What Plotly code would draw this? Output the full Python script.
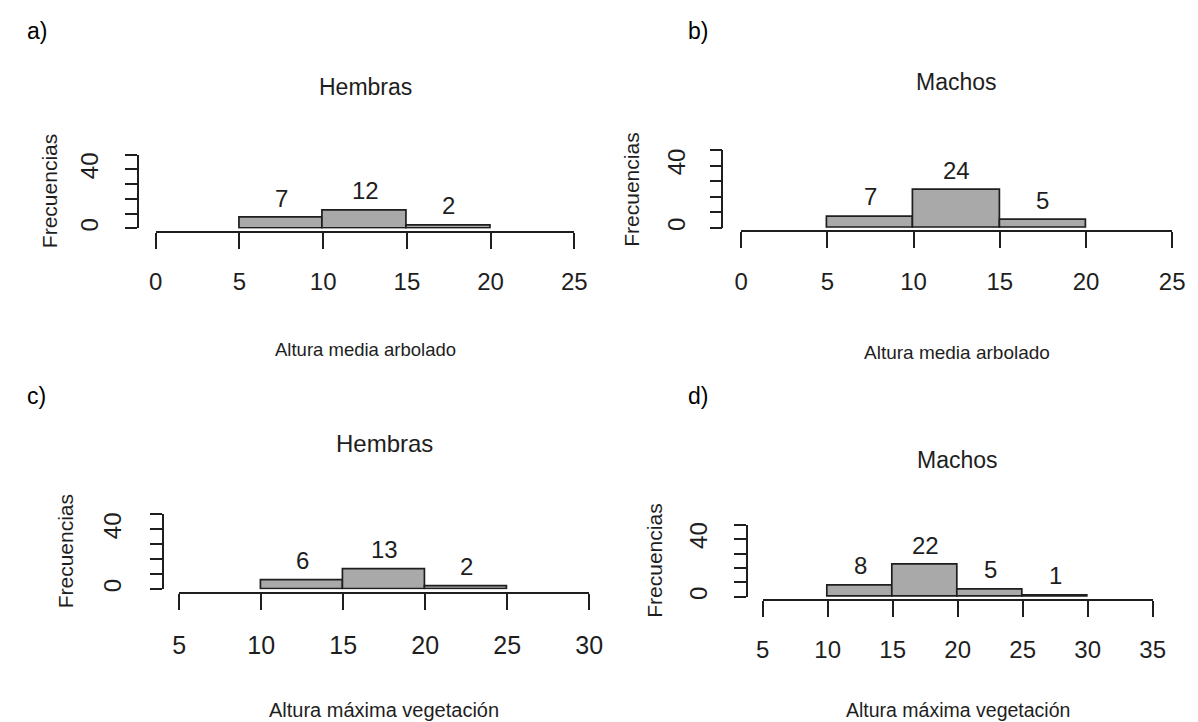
import plotly.graph_objects as go

# ---------------- data ----------------
edges_a = [5, 10, 15, 20]
counts_a = [7, 12, 2]
edges_b = [5, 10, 15, 20]
counts_b = [7, 24, 5]
edges_c = [10, 15, 20, 25]
counts_c = [6, 13, 2]
edges_d = [10, 15, 20, 25, 30]
counts_d = [8, 22, 5, 1]

xticks_ab = [0, 5, 10, 15, 20, 25]
xticks_c = [5, 10, 15, 20, 25, 30]
xticks_d = [5, 10, 15, 20, 25, 30, 35]
yticks = [0, 10, 20, 30, 40, 50]
ytick_text = ["0", "", "", "", "40", ""]

titles = ["Hembras", "Machos", "Hembras", "Machos"]
xlabels = ["Altura media arbolado", "Altura media arbolado",
           "Altura máxima vegetación", "Altura máxima vegetación"]
ylabel = "Frecuencias"
tags = ["a)", "b)", "c)", "d)"]

# ---------------- layout (pixel positions) ----------------
W, H = 1198, 722
FONT = "Liberation Sans, Arial, sans-serif"
INK = "#1e1e1e"
TICKLEN_X = 16
TICKLEN_Y = 12

geo = [
    dict(yax_x=125, y_top=145.7, y_zero=220, xax_y=223.3, x0=143.3, x1=569.3,
         lab_y=272.5, ylab_x=85, title_y=78, xlab_y=341.5, frec_x=35, frec_y=182,
         tag_x=10, tag_y=21, fs_tick=24, fs_title=23, fs_xlab=18.5),
    dict(yax_x=720, y_top=141, y_zero=219.3, xax_y=222.3, x0=739.2, x1=1177.8,
         lab_y=273, ylab_x=682, title_y=72, xlab_y=345, frec_x=628, frec_y=181,
         tag_x=683, tag_y=21, fs_tick=24, fs_title=23, fs_xlab=19),
    dict(yax_x=150.5, y_top=508, y_zero=583.3, xax_y=587, x0=167.2, x1=584.4,
         lab_y=638, ylab_x=109, title_y=437, xlab_y=705, frec_x=51, frec_y=545,
         tag_x=10, tag_y=389, fs_tick=25, fs_title=24, fs_xlab=20),
    dict(yax_x=745, y_top=518.3, y_zero=591, xax_y=594.3, x0=761, x1=1158,
         lab_y=643, ylab_x=705, title_y=453, xlab_y=705, frec_x=651, frec_y=555,
         tag_x=683, tag_y=389, fs_tick=24, fs_title=23, fs_xlab=19.5),
]


def pxx(x):
    return x / W


def pyy(y):
    return 1 - y / H


data_sets = [(edges_a, counts_a, xticks_ab), (edges_b, counts_b, xticks_ab),
             (edges_c, counts_c, xticks_c), (edges_d, counts_d, xticks_d)]

fig = go.Figure()
annotations = []
layout_axes = {}

for i, ((edges, counts, xt), g) in enumerate(zip(data_sets, geo)):
    n = i + 1
    xa = "x" if n == 1 else f"x{n}"
    ya = "y" if n == 1 else f"y{n}"
    centers = [(edges[k] + edges[k + 1]) / 2 for k in range(len(counts))]
    widths = [edges[k + 1] - edges[k] for k in range(len(counts))]
    fig.add_trace(go.Bar(
        x=centers, y=counts, width=widths, xaxis=xa, yaxis=ya,
        marker=dict(color="#a9a9a9", line=dict(color=INK, width=1.7)),
        showlegend=False, hoverinfo="x+y",
    ))
    for c, v in zip(centers, counts):
        annotations.append(dict(
            x=c, y=v, xref=xa, yref=ya, text=str(v), showarrow=False,
            yshift=20, yanchor="middle",
            font=dict(family=FONT, size=24, color=INK)))

    fs = g["fs_tick"]
    # label centre = axis + ticklen + 0.2*fs + standoff + 0.642*fs
    x_standoff = g["lab_y"] - g["xax_y"] - TICKLEN_X - 0.842 * fs
    y_standoff = (g["yax_x"] - TICKLEN_Y) - g["ylab_x"] - 0.36 * 24 - 2

    xkey = "xaxis" if n == 1 else f"xaxis{n}"
    ykey = "yaxis" if n == 1 else f"yaxis{n}"
    layout_axes[xkey] = dict(
        domain=[pxx(g["x0"]), pxx(g["x1"])], range=[xt[0], xt[-1]],
        anchor="free", position=pyy(g["xax_y"]),
        showline=True, linecolor=INK, linewidth=1.7,
        ticks="outside", ticklen=TICKLEN_X, tickwidth=1.7, tickcolor=INK,
        tickvals=xt, ticktext=[str(t) for t in xt],
        tickfont=dict(family=FONT, size=fs, color=INK),
        ticklabelstandoff=max(0, round(x_standoff)),
        showgrid=False, zeroline=False, fixedrange=True,
    )
    layout_axes[ykey] = dict(
        domain=[pyy(g["y_zero"]), pyy(g["y_top"])], range=[0, 50],
        anchor="free", position=pxx(g["yax_x"]),
        showline=True, linecolor=INK, linewidth=1.7,
        ticks="outside", ticklen=TICKLEN_Y, tickwidth=1.7, tickcolor=INK,
        tickvals=yticks, ticktext=ytick_text, tickangle=-90,
        tickfont=dict(family=FONT, size=24, color=INK),
        ticklabelstandoff=max(0, round(y_standoff)),
        showgrid=False, zeroline=False, fixedrange=True,
    )

    xmid = pxx((g["x0"] + g["x1"]) / 2)
    annotations.append(dict(
        x=xmid, y=pyy(g["title_y"]), xref="paper", yref="paper",
        text=titles[i], showarrow=False, xanchor="center", yanchor="middle",
        font=dict(family=FONT, size=g["fs_title"], color=INK)))
    annotations.append(dict(
        x=xmid, y=pyy(g["xlab_y"]), xref="paper", yref="paper",
        text=xlabels[i], showarrow=False, xanchor="center", yanchor="middle",
        font=dict(family=FONT, size=g["fs_xlab"], color=INK)))
    annotations.append(dict(
        x=pxx(g["frec_x"]), y=pyy(g["frec_y"]), xref="paper", yref="paper",
        text=ylabel, showarrow=False, textangle=-90,
        xanchor="center", yanchor="middle",
        font=dict(family=FONT, size=21, color=INK)))
    annotations.append(dict(
        x=pxx(g["tag_x"]), y=pyy(g["tag_y"]), xref="paper", yref="paper",
        text=tags[i], showarrow=False, xanchor="left", yanchor="middle",
        font=dict(family=FONT, size=23, color="#000000")))

fig.update_layout(
    width=W, height=H, autosize=False,
    margin=dict(l=0, r=0, t=0, b=0),
    paper_bgcolor="white", plot_bgcolor="white",
    bargap=0, annotations=annotations,
    **layout_axes,
)

fig.write_html("out.html")
